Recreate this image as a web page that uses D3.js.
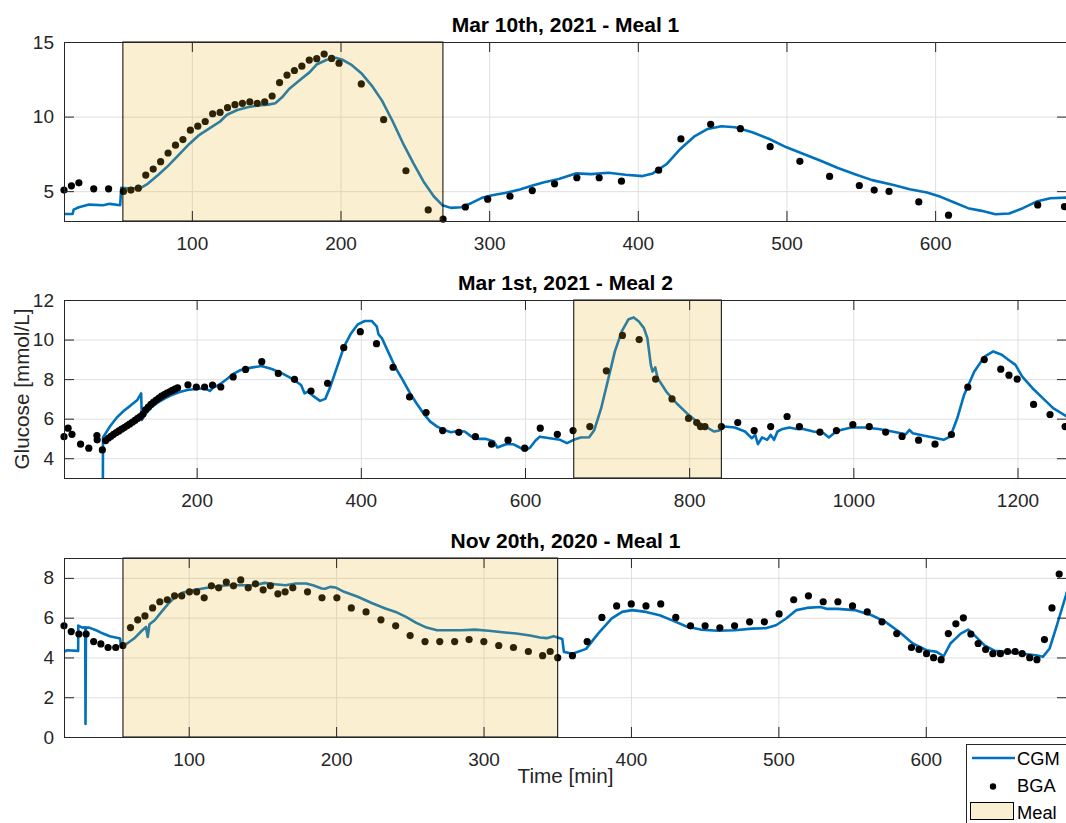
<!DOCTYPE html>
<html>
<head>
<meta charset="utf-8">
<script src="https://cdn.jsdelivr.net/npm/d3@7"></script>
<style>
  body { margin: 0; background: #fff; }
  svg { display: block; font-family: Arial, "Liberation Sans", Helvetica, sans-serif; }
</style>
</head>
<body>
<svg id="chart" width="1066" height="823"></svg>
<script>
// ---------- Session 1: Mar 10th, 2021 - Meal 1 ----------
const cgm1 = [
  [14.0,3.47],[19.8,3.47],[20.5,3.76],[24.0,3.92],[30.9,4.10],[40.2,4.06],[44.8,4.15],[51.8,4.06],
  [52.5,5.22],[58.7,5.18],[65.7,5.22],[70.3,5.49],[77.3,6.08],[84.2,6.71],[91.2,7.43],[98.1,8.15],
  [105.1,8.78],[112.1,9.22],[119.0,9.67],[123.6,10.12],[130.6,10.44],[137.5,10.62],[144.5,10.75],
  [151.4,10.80],[156.1,10.89],[160.7,11.29],[165.4,11.85],[172.3,12.42],[179.3,12.98],[183.9,13.49],
  [190.8,13.81],[196.6,13.94],[201.3,13.81],[207.1,13.49],[214.0,12.91],[221.0,12.08],[227.9,11.07],
  [234.9,9.72],[241.8,8.26],[248.8,6.91],[255.7,5.67],[262.7,4.66],[268.5,4.06],[274.3,3.88],
  [281.2,3.92],[288.2,4.21],[295.1,4.55],[302.1,4.73],[311.4,4.89],[320.6,5.11],[328.7,5.36],
  [336.4,5.58],[346.8,5.81],[358.3,6.19],[368.7,6.14],[380.2,6.23],[391.7,6.10],[403.2,6.01],
  [410.1,6.19],[419.4,6.82],[428.6,7.83],[437.8,8.65],[447.0,9.17],[456.2,9.35],[465.4,9.28],
  [477.0,8.95],[488.5,8.50],[500.0,7.94],[511.5,7.49],[523.0,7.04],[534.6,6.55],[546.1,6.14],
  [557.6,5.74],[571.4,5.43],[582.9,5.13],[594.5,4.91],[603.7,4.62],[612.9,4.24],[622.1,3.86],
  [631.3,3.68],[640.6,3.45],[649.8,3.50],[659.0,3.86],[668.2,4.30],[677.4,4.53],[688.7,4.57]
];
const bga1 = [
  [14,5.07],[19,5.36],[24,5.56],[34,5.16],[44,5.16],[54,4.98],[59,5.07],[64,5.20],[69,6.08],
  [74,6.48],[79,6.98],[84,7.56],[89,8.08],[94,8.46],[99,9.09],[104,9.36],[109,9.67],[114,10.19],
  [119,10.28],[124,10.60],[129,10.80],[134,10.89],[139,10.98],[144,10.89],[149,10.98],[154,11.38],
  [159,12.28],[164,12.78],[169,13.09],[174,13.38],[179,13.79],[184,13.88],[189,14.19],[194,13.90],
  [199,13.58],[214,12.19],[229,9.79],[244,6.37],[259,3.74],[269,3.13],[284,3.94],[299,4.46],
  [314,4.66],[329,5.04],[344,5.49],[359,5.90],[374,5.90],[389,5.67],[414,6.41],[429,8.50],
  [449,9.48],[469,9.19],[489,7.98],[509,7.00],[529,5.99],[549,5.38],[559,5.07],[569,4.98],
  [589,4.28],[609,3.39],[669,4.08],[687,3.97]
];

// ---------- Session 2: Mar 1st, 2021 - Meal 2 ----------
const cgm2 = [
  [85.7,1.50],[85.9,5.05],[94.2,5.60],[102.6,6.05],[111.0,6.39],[119.4,6.66],[127.8,6.95],[132.4,7.28],
  [133.3,5.94],[138.3,6.27],[144.6,6.56],[153.0,6.83],[161.4,7.03],[169.8,7.20],[178.2,7.33],
  [188.7,7.45],[199.2,7.50],[209.7,7.54],[216.0,7.40],[220.1,7.57],[228.5,7.74],[236.9,8.01],
  [245.3,8.28],[253.7,8.46],[266.3,8.58],[278.9,8.66],[291.5,8.51],[304.1,8.29],[316.7,8.01],
  [327.2,7.70],[331.4,7.28],[335.6,7.37],[341.9,7.15],[350.3,6.90],[356.6,7.00],[362.9,7.62],
  [371.2,8.63],[379.6,9.64],[388.0,10.31],[396.4,10.77],[404.8,10.94],[413.2,10.94],[419.5,10.65],
  [421.6,10.26],[425.8,10.06],[434.2,9.30],[442.6,8.55],[451.0,7.96],[459.4,7.33],[467.8,6.78],
  [476.2,6.27],[484.6,5.85],[493.0,5.60],[501.4,5.43],[509.8,5.31],[518.2,5.38],[526.5,5.35],
  [534.9,5.09],[543.3,4.98],[551.7,4.98],[562.2,4.84],[566.4,4.54],[576.9,4.71],[585.3,4.71],
  [593.7,4.54],[600.0,4.40],[606.3,4.54],[612.6,4.88],[618.1,5.09],[630.2,5.01],[642.8,4.93],
  [651.1,4.76],[659.4,4.93],[667.8,5.05],[678.2,5.06],[684.5,5.43],[692.8,6.53],[701.2,7.96],
  [709.5,9.40],[717.9,10.41],[726.2,11.03],[732.4,11.12],[738.7,10.91],[744.9,10.58],[749.1,10.07],
  [753.3,8.72],[755.4,8.38],[758.7,8.59],[761.6,8.05],[772.1,7.37],[784.6,6.78],[797.1,6.28],
  [809.6,5.85],[822.1,5.55],[830.4,5.35],[836.7,5.40],[843.0,5.60],[855.5,5.55],[868.0,5.35],
  [876.3,5.01],[880.5,5.18],[883.8,4.71],[888.8,5.05],[895.1,4.93],[899.3,5.18],[903.4,4.93],
  [907.6,5.35],[913.9,5.48],[922.2,5.55],[930.6,5.48],[938.9,5.48],[951.4,5.35],[963.9,5.26],
  [970.2,5.05],[976.4,5.26],[984.8,5.43],[997.3,5.55],[1014.0,5.55],[1030.7,5.48],[1047.3,5.35],
  [1064.0,5.21],[1068.2,5.43],[1072.4,5.26],[1084.9,5.15],[1097.4,5.05],[1109.9,4.93],[1118.2,5.10],
  [1126.6,6.02],[1134.9,7.20],[1147.4,8.38],[1159.9,9.14],[1170.4,9.40],[1180.8,9.23],[1189.2,8.97],
  [1197.5,8.72],[1205.8,8.13],[1218.3,7.54],[1230.8,7.04],[1243.4,6.53],[1260.3,6.11]
];
const bga2 = [
  [38.4,5.09],[43.4,5.52],[48.1,5.21],[58.6,4.71],[68.6,4.51],[78.5,5.15],[78.8,4.93],[85.1,4.42],
  [89.1,4.89],[92.4,5.01],[95.6,5.11],[98.8,5.21],[102.1,5.30],[105.3,5.38],[108.6,5.47],[111.8,5.55],
  [115.1,5.64],[118.3,5.72],[121.6,5.82],[124.8,5.91],[128.1,6.01],[131.3,6.11],[134.6,6.23],
  [137.8,6.45],[141.1,6.58],[144.3,6.72],[147.6,6.84],[150.8,6.94],[154.1,7.04],[157.3,7.14],
  [160.6,7.22],[163.8,7.29],[167.1,7.36],[170.3,7.43],[173.6,7.49],[176.8,7.56],[189.4,7.71],
  [199.6,7.60],[209.7,7.60],[219.3,7.70],[229.4,7.60],[244.5,8.11],[259.6,8.49],[279.3,8.88],
  [299.5,8.29],[319.2,7.99],[339.3,7.40],[359.5,7.79],[379.2,9.59],[399.4,10.40],[419.1,9.79],
  [439.3,8.60],[459.4,7.10],[479.5,6.31],[499.7,5.40],[519.4,5.31],[539.6,5.09],[559.3,4.71],
  [579.4,4.91],[599.6,4.51],[618.6,5.52],[639.4,5.21],[658.6,5.40],[679.0,5.60],[699.1,8.42],
  [718.7,10.21],[739.1,10.00],[759.1,8.00],[779.1,7.00],[799.2,6.01],[809.2,5.80],[813.8,5.60],
  [819.2,5.60],[839.2,5.60],[859.2,5.80],[879.2,5.40],[899.3,5.60],[919.3,6.11],[934.3,5.60],
  [959.3,5.32],[979.4,5.40],[999.4,5.70],[1019.4,5.60],[1039.4,5.32],[1059.4,5.10],[1079.5,4.91],
  [1099.5,4.71],[1119.5,5.20],[1139.5,7.59],[1159.5,8.99],[1179.6,8.50],[1189.6,8.20],[1199.6,8.00],
  [1219.6,6.72],[1239.6,6.21],[1258.0,5.60]
];

// ---------- Session 3: Nov 20th, 2020 - Meal 1 ----------
const cgm3 = [
  [15.4,4.28],[17.3,4.36],[25.0,4.33],[25.1,5.60],[27.8,5.50],[29.8,5.52],[30.0,0.65],[30.3,5.50],
  [32.5,5.50],[37.1,5.37],[41.8,5.20],[46.5,5.07],[53.5,4.95],[54.0,4.61],[58.2,4.70],[62.9,4.95],
  [67.5,5.29],[71.0,5.54],[72.2,5.03],[73.4,5.67],[76.9,5.87],[81.5,6.29],[86.2,6.71],[90.9,7.05],
  [95.6,7.25],[102.6,7.38],[109.6,7.47],[116.6,7.55],[125.9,7.63],[135.3,7.63],[144.6,7.63],
  [151.6,7.75],[158.6,7.68],[165.7,7.63],[172.7,7.72],[179.7,7.72],[184.3,7.63],[190.2,7.47],
  [192.5,7.45],[196.0,7.55],[199.5,7.52],[205.4,7.30],[214.7,7.05],[224.1,6.74],[233.4,6.46],
  [240.4,6.29],[247.4,6.04],[254.4,5.74],[261.4,5.50],[268.5,5.37],[275.5,5.37],[284.8,5.37],
  [294.2,5.40],[303.5,5.34],[312.9,5.27],[322.2,5.20],[331.5,5.10],[338.3,5.00],[342.9,4.97],
  [347.6,5.07],[353.4,4.93],[354.5,4.28],[360.3,4.19],[369.6,4.43],[377.7,5.20],[387.0,5.96],
  [394.0,6.29],[400.9,6.38],[410.2,6.29],[419.5,6.12],[428.8,5.84],[438.1,5.54],[447.3,5.40],
  [458.9,5.34],[470.5,5.37],[482.1,5.45],[491.4,5.47],[498.4,5.62],[505.3,5.96],[512.3,6.38],
  [519.3,6.49],[528.5,6.54],[533.2,6.44],[540.1,6.44],[551.7,6.38],[563.3,6.12],[572.6,5.79],
  [581.9,5.29],[591.2,4.70],[600.5,4.36],[607.4,4.28],[612.1,4.06],[616.7,4.70],[623.7,5.20],
  [628.8,5.40],[632.9,5.12],[639.9,4.61],[646.9,4.33],[656.1,4.28],[665.4,4.19],[674.7,4.11],
  [679.4,4.03],[684.0,4.45],[688.6,5.54],[695.8,7.30]
];
const bga3 = [
  [15.4,5.59],[20.3,5.30],[25.5,5.18],[30.4,5.18],[35.5,4.80],[40.4,4.68],[45.3,4.50],[50.5,4.50],
  [55.4,4.60],[60.5,5.50],[65.4,5.89],[70.3,6.09],[75.5,6.49],[80.4,6.80],[85.5,6.90],[90.4,7.10],
  [95.3,7.10],[100.5,7.30],[105.4,7.30],[110.5,7.00],[115.4,7.60],[120.3,7.50],[125.5,7.79],
  [130.4,7.60],[135.3,7.90],[140.4,7.50],[145.3,7.70],[150.5,7.40],[155.4,7.60],[160.5,7.20],
  [165.4,7.30],[170.6,7.50],[180.6,7.30],[190.4,7.00],[200.5,7.00],[210.3,6.49],[220.3,6.29],
  [230.4,5.89],[240.4,5.59],[250.2,5.10],[260.3,4.80],[270.3,4.80],[280.4,4.80],[290.2,4.90],
  [300.2,4.80],[310.3,4.60],[320.3,4.50],[330.4,4.30],[340.1,4.09],[345.2,4.30],[350.3,3.99],
  [360.3,4.09],[370.3,4.80],[380.3,6.01],[390.3,6.59],[400.2,6.69],[410.2,6.59],[420.2,6.69],
  [430.4,6.01],[440.4,5.59],[450.3,5.59],[460.3,5.49],[470.3,5.59],[480.5,5.79],[490.5,5.79],
  [500.5,6.19],[510.4,6.90],[520.4,7.10],[530.4,6.80],[540.4,6.80],[550.3,6.59],[560.3,6.29],
  [570.3,5.79],[580.3,5.20],[590.3,4.50],[595.4,4.40],[600.5,4.19],[605.3,3.99],[610.4,3.89],
  [615.3,5.20],[620.4,5.69],[625.5,5.99],[630.6,5.18],[635.5,4.70],[640.6,4.40],[645.5,4.19],
  [650.6,4.19],[655.5,4.30],[660.6,4.30],[665.4,4.19],[670.5,3.99],[675.4,3.89],[680.5,4.90],
  [685.6,6.49],[690.5,8.19]
];

// ---------- Per-panel settings ----------
const titles = ["Mar 10th, 2021 - Meal 1", "Mar 1st, 2021 - Meal 2", "Nov 20th, 2020 - Meal 1"];
const xLimits = [[14, 688.7], [38.4, 1260.3], [15.4, 695.8]];
const yLimits = [[3, 15], [3, 12], [0, 9]];
const xTickValues = [[100, 200, 300, 400, 500, 600], [200, 400, 600, 800, 1000, 1200], [100, 200, 300, 400, 500, 600]];
const yTickValues = [[5, 10, 15], [4, 6, 8, 10, 12], [0, 2, 4, 6, 8]];
const mealWindows = [[53.6, 268.9], [659.4, 839.2], [55.4, 350.3]];
const cgmSeries = [cgm1, cgm2, cgm3];
const bgaSeries = [bga1, bga2, bga3];
const legendLabels = ["CGM", "BGA", "Meal"];

// ---------- Layout ----------
const W = 1066, H = 823;
const left = 64, right = 1067;
const tops = [42, 300, 558];
const bottoms = [221, 478, 737];
const axisColor = "#262626";
const gridColor = "#dfdfdf";
const cgmColor = "#0072BD";
const mealColor = "#EDB120";
const tickFont = 19, titleFont = 21, labelFont = 20.7, legendFont = 18.3;
const tickLen = 10;

const svg = d3.select("#chart");
svg.append("rect").attr("width", W).attr("height", H).attr("fill", "#fff");
const defs = svg.append("defs");

titles.forEach((title, i) => {
  const top = tops[i], bot = bottoms[i];
  const w = right - left, h = bot - top;
  const x = d3.scaleLinear().domain(xLimits[i]).range([left, right]);
  const y = d3.scaleLinear().domain(yLimits[i]).range([bot, top]);
  const g = svg.append("g");

  defs.append("clipPath").attr("id", "plotclip" + i)
    .append("rect").attr("x", left).attr("y", top).attr("width", w).attr("height", h);

  // grid lines
  g.append("g")
    .attr("transform", `translate(0,${bot})`)
    .call(d3.axisBottom(x).tickValues(xTickValues[i]).tickSize(-h).tickFormat(""))
    .call(s => { s.select(".domain").remove(); s.selectAll("line").attr("stroke", gridColor).attr("stroke-width", 1); });
  g.append("g")
    .attr("transform", `translate(${left},0)`)
    .call(d3.axisLeft(y).tickValues(yTickValues[i]).tickSize(-w).tickFormat(""))
    .call(s => { s.select(".domain").remove(); s.selectAll("line").attr("stroke", gridColor).attr("stroke-width", 1); });

  // CGM trace
  g.append("path")
    .datum(cgmSeries[i])
    .attr("clip-path", `url(#plotclip${i})`)
    .attr("fill", "none")
    .attr("stroke", cgmColor)
    .attr("stroke-width", 2.6)
    .attr("stroke-linejoin", "round")
    .attr("d", d3.line().x(d => x(d[0])).y(d => y(d[1])));

  // BGA samples
  g.append("g").selectAll("circle")
    .data(bgaSeries[i])
    .join("circle")
    .attr("cx", d => x(d[0]))
    .attr("cy", d => y(d[1]))
    .attr("r", 3.6)
    .attr("fill", "#000");

  // meal window, translucent over the data
  const m = mealWindows[i];
  g.append("rect")
    .attr("x", x(m[0])).attr("y", top)
    .attr("width", x(m[1]) - x(m[0])).attr("height", h)
    .attr("fill", mealColor).attr("fill-opacity", 0.2)
    .attr("stroke", "#000").attr("stroke-width", 1);

  // axes with inward ticks
  const styleAxis = s => {
    s.select(".domain").remove();
    s.selectAll("line").attr("stroke", axisColor).attr("stroke-width", 1);
    s.selectAll("text").attr("fill", axisColor).attr("font-size", tickFont)
      .attr("font-family", 'Arial, "Liberation Sans", Helvetica, sans-serif');
  };
  g.append("g")
    .attr("transform", `translate(0,${bot})`)
    .call(d3.axisBottom(x).tickValues(xTickValues[i]).tickSize(-tickLen).tickPadding(16).tickFormat(d3.format("d")))
    .call(styleAxis);
  g.append("g")
    .attr("transform", `translate(0,${top})`)
    .call(d3.axisTop(x).tickValues(xTickValues[i]).tickSize(-tickLen).tickFormat(""))
    .call(styleAxis);
  g.append("g")
    .attr("transform", `translate(${left},0)`)
    .call(d3.axisLeft(y).tickValues(yTickValues[i]).tickSize(-tickLen).tickPadding(10).tickFormat(d3.format("d")))
    .call(styleAxis);
  g.append("g")
    .attr("transform", `translate(${right},0)`)
    .call(d3.axisRight(y).tickValues(yTickValues[i]).tickSize(-tickLen).tickFormat(""))
    .call(styleAxis);

  g.append("rect")
    .attr("x", left + 0.5).attr("y", top + 0.5)
    .attr("width", w).attr("height", h)
    .attr("fill", "none").attr("stroke", axisColor).attr("stroke-width", 1);

  g.append("text")
    .attr("x", (left + right) / 2).attr("y", top - 10)
    .attr("text-anchor", "middle")
    .attr("font-size", titleFont).attr("font-weight", "bold").attr("fill", "#000")
    .text(title);
});

// axis labels
svg.append("text")
  .attr("transform", `translate(28.5,${(tops[1] + bottoms[1]) / 2}) rotate(-90)`)
  .attr("text-anchor", "middle")
  .attr("font-size", labelFont).attr("fill", axisColor)
  .text("Glucose [mmol/L]");
svg.append("text")
  .attr("x", (left + right) / 2).attr("y", 783)
  .attr("text-anchor", "middle")
  .attr("font-size", labelFont).attr("fill", axisColor)
  .text("Time [min]");

// legend
const lg = svg.append("g");
lg.append("rect")
  .attr("x", 966.5).attr("y", 744.5).attr("width", 130).attr("height", 110)
  .attr("fill", "#fff").attr("stroke", axisColor).attr("stroke-width", 1);
lg.append("line")
  .attr("x1", 972).attr("x2", 1015).attr("y1", 758).attr("y2", 758)
  .attr("stroke", cgmColor).attr("stroke-width", 2.6);
lg.append("circle").attr("cx", 993).attr("cy", 786.5).attr("r", 3.2).attr("fill", "#000");
lg.append("rect")
  .attr("x", 970.5).attr("y", 802.5).attr("width", 43).attr("height", 17)
  .attr("fill", mealColor).attr("fill-opacity", 0.2)
  .attr("stroke", "#000").attr("stroke-width", 1);
const legendBaselines = [765, 792, 819];
legendLabels.forEach((t, k) => {
  lg.append("text")
    .attr("x", 1017).attr("y", legendBaselines[k])
    .attr("font-size", legendFont).attr("fill", "#000")
    .text(t);
});
</script>
</body>
</html>
